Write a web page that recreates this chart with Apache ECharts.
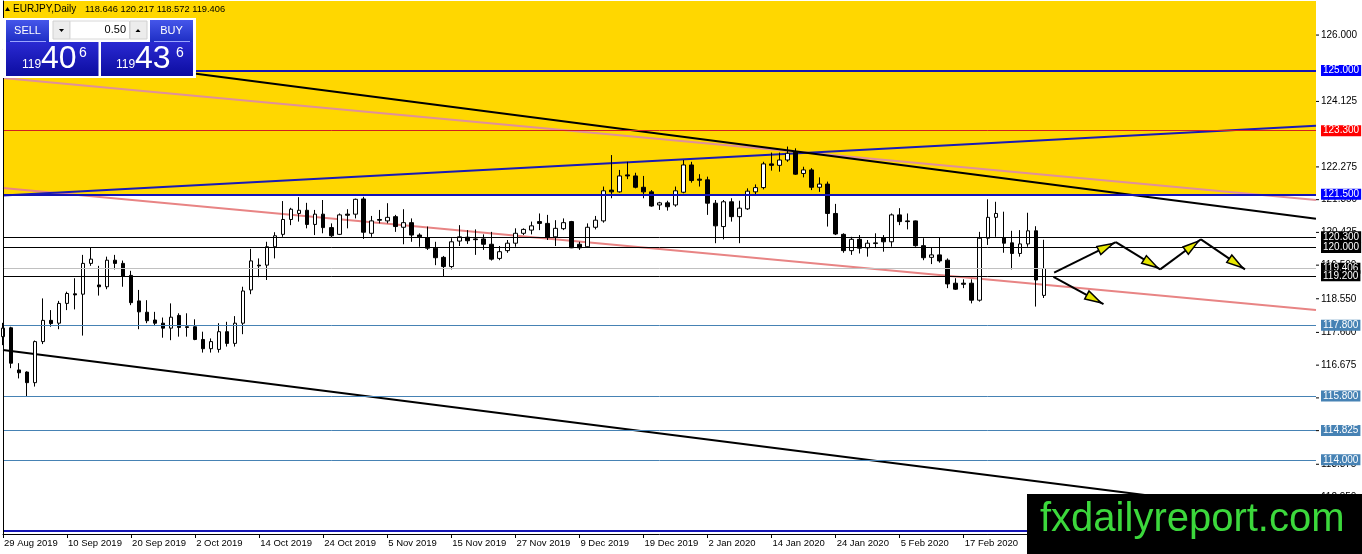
<!DOCTYPE html>
<html><head><meta charset="utf-8">
<script src="https://cdn.jsdelivr.net/npm/echarts@6/dist/echarts.min.js"></script>
<style>html,body{margin:0;padding:0;background:#fff}#c{width:1362px;height:554px}</style>
</head><body><div id="c"></div>
<script>
// ---- data ----
const tickLabels = ['29 Aug 2019','10 Sep 2019','20 Sep 2019','2 Oct 2019','14 Oct 2019','24 Oct 2019','5 Nov 2019','15 Nov 2019','27 Nov 2019','9 Dec 2019','19 Dec 2019','2 Jan 2020','14 Jan 2020','24 Jan 2020','5 Feb 2020','17 Feb 2020','27 Feb 2020'];
const opens = [117.48,117.73,116.54,116.48,116.18,117.34,117.94,117.86,118.42,118.69,118.68,119.55,118.94,118.89,119.64,119.55,119.21,118.49,118.17,117.95,117.86,117.72,118.08,117.76,117.76,117.40,117.14,117.12,117.62,117.29,117.86,118.80,119.50,119.50,120.02,120.37,120.79,120.96,121.05,120.65,120.94,120.56,120.37,120.94,120.94,121.37,120.40,120.79,120.75,120.87,120.57,120.70,120.35,120.28,119.98,119.72,119.46,120.18,120.29,120.24,120.24,120.09,119.69,119.91,120.12,120.40,120.49,120.73,120.68,120.30,120.53,120.73,120.09,120.02,120.57,120.75,121.62,121.57,122.05,122.02,121.70,121.57,121.20,121.26,121.20,121.56,122.33,121.93,121.91,121.25,120.59,121.29,120.87,121.09,121.57,121.69,122.36,122.32,122.47,122.69,122.09,122.19,121.70,121.79,120.96,120.37,119.91,120.23,119.99,120.11,120.28,120.16,120.92,120.75,120.75,120.05,119.72,119.79,119.64,118.99,118.99,118.99,118.51,120.26,120.85,120.28,120.13,119.83,120.10,120.47,118.646];
const closes = [117.72,116.73,116.46,116.18,117.34,117.94,117.85,118.42,118.70,118.66,119.55,119.67,118.89,119.64,119.55,119.19,118.44,118.18,117.93,117.86,117.72,118.03,117.74,117.74,117.40,117.14,117.34,117.62,117.29,117.86,118.77,119.62,119.48,120.02,120.33,120.79,121.08,121.05,120.65,120.94,120.56,120.33,120.92,120.91,121.36,120.43,120.75,120.77,120.85,120.59,120.70,120.35,120.30,119.98,119.71,119.46,120.16,120.30,120.19,120.22,120.09,119.67,119.88,120.12,120.40,120.51,120.61,120.68,120.28,120.54,120.70,119.99,119.99,120.57,120.77,121.60,121.57,122.02,122.02,121.70,121.57,121.17,121.26,121.15,121.60,122.33,121.89,121.90,121.25,120.61,121.29,120.87,121.11,121.59,121.69,122.36,122.32,122.47,122.66,122.07,122.19,121.70,121.79,120.96,120.38,119.91,120.23,119.98,120.12,120.13,120.16,120.92,120.73,120.73,120.05,119.71,119.79,119.62,118.97,118.82,118.96,118.51,120.26,120.85,120.96,120.12,119.83,120.10,120.47,119.08,119.406];
const lows = [117.24,116.59,116.30,115.80,116.07,117.27,117.76,117.69,118.23,118.25,117.51,119.48,118.64,118.82,119.38,118.89,118.37,117.69,117.86,117.78,117.45,117.38,117.48,117.48,117.38,117.03,117.03,117.03,117.20,117.20,117.55,118.68,119.16,119.08,119.69,120.30,120.63,120.73,120.54,120.35,120.40,120.29,120.35,120.54,120.82,120.24,120.30,120.68,120.68,120.44,120.09,120.16,120.02,119.93,119.50,119.17,119.38,120.04,120.10,119.79,119.93,119.63,119.64,119.85,120.02,120.35,120.37,120.49,120.21,120.04,120.49,119.98,119.93,120.00,120.51,120.70,121.39,121.55,121.93,121.67,121.39,121.15,121.06,121.04,121.15,121.53,121.83,121.72,120.92,120.12,120.23,120.73,120.12,121.06,121.48,121.64,122.17,122.14,122.42,122.05,121.98,121.62,121.57,120.59,120.35,119.85,119.79,119.83,119.74,119.98,119.88,120.02,120.63,120.51,120.02,119.64,119.53,119.57,118.85,118.80,118.85,118.42,118.47,120.07,120.30,119.85,119.38,119.74,120.02,118.33,118.572];
const highs = [117.87,117.76,116.73,116.50,117.37,118.56,118.23,118.49,118.75,119.13,119.79,120.00,119.48,119.74,119.79,119.63,119.34,118.80,118.51,118.18,118.02,118.42,118.14,118.14,117.97,117.62,117.43,117.86,117.90,118.06,118.89,119.96,119.69,120.16,120.43,121.31,121.12,121.42,121.26,121.06,121.34,120.68,120.96,121.08,121.38,121.43,120.89,121.06,121.25,120.92,121.08,120.82,120.40,120.59,120.16,119.76,120.26,120.63,120.49,120.51,120.37,120.44,120.04,120.21,120.54,120.54,120.73,120.96,120.92,120.77,120.82,120.75,120.16,120.68,120.89,121.72,122.61,122.19,122.42,122.11,122.02,121.62,121.29,121.32,121.72,122.47,122.42,122.07,122.00,121.34,121.34,121.39,121.32,121.67,121.78,122.42,122.68,122.68,122.85,122.80,122.28,122.24,121.98,121.86,121.23,120.40,120.30,120.35,120.21,120.40,120.35,120.96,121.11,120.96,120.76,120.26,120.00,120.28,119.69,119.13,119.10,119.10,120.44,121.36,121.29,121.01,120.47,120.49,120.98,120.60,120.217];
const yTicks = [126.000,124.125,122.275,121.350,120.425,119.500,118.550,117.600,116.675,115.750,114.825,113.875,112.950];
const blueLevels = [125.000,121.500,112.000];
const redLevels = [123.300];
const blackLevels = [120.300,120.000,119.200];
const bidLevel = [119.406];
const steelLevels = [117.800,115.800,114.825,114.000];
const goldZone = [121.500];
const trendBlackUpper = [[0,125.61],[164,120.81]];
const trendPink = [[0,124.79],[164,121.34]];
const trendBlue = [[0,121.47],[164,123.44]];
const trendSalmon = [[0,121.68],[164,118.23]];
const trendBlackLower = [[0,117.10],[164,112.39]];
const arrowSegments = [[131.29,119.29,139.00,120.15],[139.00,120.15,144.54,119.38],[144.54,119.38,149.63,120.23],[149.63,120.23,155.13,119.38],[131.21,119.17,137.46,118.40]];
const slotCount = 165;
const yMin = 111.905, yMax = 126.962;

// ---- chart ----
const FONT = 'Liberation Sans, Arial, sans-serif';
const chart = echarts.init(document.getElementById('c'), null, {renderer:'canvas'});
const cats = Array.from({length: slotCount}, (_, i) => String(i));
const candles = opens.map((o, i) => [o, closes[i], lows[i], highs[i]]);

function lvl(v, lineColor, width, bg) {
  return {yAxis: v, lineStyle: {color: lineColor, width: width, type: 'solid'},
    label: {show: true, position: 'end', distance: 5, formatter: v.toFixed(3), backgroundColor: bg,
      color: '#fff', fontSize: 10, fontFamily: FONT, padding: [1, 2, 0, 2]}};
}
const levelData = []
  .concat(steelLevels.map(v => lvl(v, '#4682b4', 1, '#4682b4')))
  .concat(bidLevel.map(v => lvl(v, '#c0c0c0', 1, '#000')))
  .concat(blackLevels.map(v => lvl(v, '#000', 1, '#000')))
  .concat(redLevels.map(v => lvl(v, '#d02020', 1, '#ff0000')))
  .concat(blueLevels.map(v => lvl(v, '#1414b4', 2, '#0000ff')));

function trend(data, color) {
  return {type: 'line', xAxisIndex: 1, yAxisIndex: 0, data: data, symbol: 'none', silent: true,
    lineStyle: {color: color, width: 2}, z: 3, animation: false};
}

const option = {
  animation: false,
  backgroundColor: '#fff',
  grid: {left: 3, right: 46, top: 1, bottom: 20, containLabel: false, outerBoundsMode: 'none'},
  xAxis: [{
    type: 'category', data: cats, boundaryGap: false,
    axisLine: {show: true, lineStyle: {color: '#000', width: 1}},
    axisTick: {show: true, interval: 7, length: 4, lineStyle: {color: '#000'}},
    axisLabel: {interval: 7, align: 'left', margin: 4, padding: [0, 0, 0, 1], color: '#000', fontSize: 9.5, fontFamily: FONT,
      formatter: (v, i) => (i % 8 === 0 && tickLabels[i / 8]) ? tickLabels[i / 8] : ''},
    splitLine: {show: false}
  }, {
    type: 'value', min: 0, max: slotCount - 1, show: false
  }],
  yAxis: [{
    type: 'value', position: 'right', min: yMin, max: yMax,
    axisLine: {show: true, lineStyle: {color: '#000', width: 1}},
    axisTick: {show: false},
    axisLabel: {customValues: yTicks, formatter: v => v.toFixed(3), margin: 5, color: '#000', fontSize: 10, fontFamily: FONT},
    splitLine: {show: false}, minorTick: {show: false}, minorSplitLine: {show: false}
  }],
  series: [
    {type: 'line', data: [], z: 1, silent: true,
      markArea: {silent: true, itemStyle: {color: '#ffd700'},
        data: goldZone.map(v => [{yAxis: v}, {yAxis: yMax}])}},
    {type: 'line', data: [], z: 2, silent: true,
      markLine: {silent: true, symbol: ['none', 'none'], animation: false, data: levelData}},
    trend(trendPink, '#e0909a'),
    trend(trendSalmon, '#e88484'),
    trend(trendBlue, '#1a1ab4'),
    trend(trendBlackUpper, '#000'),
    trend(trendBlackLower, '#000'),
    {type: 'candlestick', data: candles, barWidth: 4, z: 4,
      itemStyle: {color: '#fff', color0: '#000', borderColor: '#000', borderColor0: '#000', borderWidth: 1}},
    {type: 'custom', xAxisIndex: 1, yAxisIndex: 0, data: arrowSegments, z: 5, silent: true,
      encode: {x: [0, 2], y: [1, 3]},
      renderItem: function (params, api) {
        const a = api.coord([api.value(0), api.value(1)]);
        const b = api.coord([api.value(2), api.value(3)]);
        const dx = b[0] - a[0], dy = b[1] - a[1];
        const L = Math.hypot(dx, dy), ux = dx / L, uy = dy / L;
        const tip = [b[0] - ux * 3, b[1] - uy * 3];
        const base = [tip[0] - ux * 16, tip[1] - uy * 16];
        const nx = -uy, ny = ux, w = 4.5;
        return {type: 'group', children: [
          {type: 'line', shape: {x1: a[0], y1: a[1], x2: b[0], y2: b[1]}, style: {stroke: '#000', lineWidth: 2}},
          {type: 'polygon', shape: {points: [tip, [base[0] + nx * w, base[1] + ny * w], [base[0] - nx * w, base[1] - ny * w]]},
            style: {fill: '#e6e600', stroke: '#000', lineWidth: 1.5}}
        ]};
      }},
    // small price-scale ticks on the right axis, positioned through the y scale
    {type: 'custom', xAxisIndex: 1, yAxisIndex: 0, data: yTicks.map(v => [slotCount - 1, v]), z: 6, silent: true, clip: false,
      encode: {x: 0, y: 1},
      renderItem: function (params, api) {
        const p = api.coord([api.value(0), api.value(1)]);
        return {type: 'line', shape: {x1: p[0], y1: p[1], x2: p[0] + 3, y2: p[1]}, style: {stroke: '#000', lineWidth: 1}};
      }}
  ],
  graphic: [
    // left frame edge of the chart window
    {type: 'line', z: 50, shape: {x1: 3.5, y1: 1, x2: 3.5, y2: 534}, style: {stroke: '#000', lineWidth: 1}},
    // header
    {type: 'polygon', z: 100, shape: {points: [[5, 11], [10, 11], [7.5, 7]]}, style: {fill: '#000'}},
    {type: 'text', z: 100, x: 13, y: 9, style: {text: 'EURJPY,Daily', font: '10px ' + FONT, fill: '#000', verticalAlign: 'middle'}},
    {type: 'text', z: 100, x: 85, y: 9, style: {text: '118.646 120.217 118.572 119.406', font: '9.3px ' + FONT, fill: '#000', verticalAlign: 'middle'}},
    // one-click panel
    {type: 'rect', z: 100, shape: {x: 3, y: 18, width: 193, height: 60}, style: {fill: '#fff'}},
    {type: 'rect', z: 101, shape: {x: 6, y: 20, width: 43, height: 22},
      style: {fill: new echarts.graphic.LinearGradient(0, 0, 0, 1, [{offset: 0, color: '#4556ea'}, {offset: 1, color: '#1e2ec4'}])}},
    {type: 'rect', z: 101, shape: {x: 150, y: 20, width: 43, height: 22},
      style: {fill: new echarts.graphic.LinearGradient(0, 0, 0, 1, [{offset: 0, color: '#4556ea'}, {offset: 1, color: '#1e2ec4'}])}},
    {type: 'line', z: 102, shape: {x1: 10, y1: 41.5, x2: 46, y2: 41.5}, style: {stroke: '#9aa4ff', lineWidth: 1}},
    {type: 'line', z: 102, shape: {x1: 154, y1: 41.5, x2: 190, y2: 41.5}, style: {stroke: '#9aa4ff', lineWidth: 1}},
    {type: 'text', z: 102, x: 27.5, y: 31, style: {text: 'SELL', font: '11px ' + FONT, fill: '#fff', align: 'center', verticalAlign: 'middle'}},
    {type: 'text', z: 102, x: 171.5, y: 31, style: {text: 'BUY', font: '11px ' + FONT, fill: '#fff', align: 'center', verticalAlign: 'middle'}},
    {type: 'rect', z: 101, shape: {x: 53, y: 21, width: 17, height: 18}, style: {fill: '#ececec', stroke: '#d0d0d0', lineWidth: 1}},
    {type: 'polygon', z: 102, shape: {points: [[59, 29], [64, 29], [61.5, 32]]}, style: {fill: '#000'}},
    {type: 'rect', z: 101, shape: {x: 70, y: 21, width: 59.5, height: 18}, style: {fill: '#fff', stroke: '#d8d8d8', lineWidth: 1}},
    {type: 'text', z: 102, x: 126, y: 30, style: {text: '0.50', font: '11px ' + FONT, fill: '#000', align: 'right', verticalAlign: 'middle'}},
    {type: 'rect', z: 101, shape: {x: 130, y: 21, width: 17, height: 18}, style: {fill: '#ececec', stroke: '#d0d0d0', lineWidth: 1}},
    {type: 'polygon', z: 102, shape: {points: [[135.5, 32], [140.5, 32], [138, 29]]}, style: {fill: '#000'}},
    {type: 'rect', z: 101, shape: {x: 6, y: 42, width: 92.5, height: 34},
      style: {fill: new echarts.graphic.LinearGradient(0, 0, 0, 1, [{offset: 0, color: '#2a2ad2'}, {offset: 1, color: '#0c0ca0'}])}},
    {type: 'rect', z: 101, shape: {x: 101, y: 42, width: 92, height: 34},
      style: {fill: new echarts.graphic.LinearGradient(0, 0, 0, 1, [{offset: 0, color: '#2a2ad2'}, {offset: 1, color: '#0c0ca0'}])}},
    {type: 'text', z: 102, x: 22, y: 71, style: {text: '119', font: '12px ' + FONT, fill: '#fff', verticalAlign: 'bottom'}},
    {type: 'text', z: 102, x: 41, y: 75, style: {text: '40', font: '32px ' + FONT, fill: '#fff', verticalAlign: 'bottom'}},
    {type: 'text', z: 102, x: 79, y: 46, style: {text: '6', font: '14px ' + FONT, fill: '#fff', verticalAlign: 'top'}},
    {type: 'text', z: 102, x: 116, y: 71, style: {text: '119', font: '12px ' + FONT, fill: '#fff', verticalAlign: 'bottom'}},
    {type: 'text', z: 102, x: 135, y: 75, style: {text: '43', font: '32px ' + FONT, fill: '#fff', verticalAlign: 'bottom'}},
    {type: 'text', z: 102, x: 176, y: 46, style: {text: '6', font: '14px ' + FONT, fill: '#fff', verticalAlign: 'top'}},
    // watermark
    {type: 'rect', z: 200, shape: {x: 1027, y: 494, width: 335, height: 60}, style: {fill: '#000'}},
    {type: 'text', z: 201, x: 1040, y: 520, style: {text: 'fxdailyreport.com', font: '40px ' + FONT, fill: '#3cd83c', verticalAlign: 'middle'}}
  ]
};
chart.setOption(option);
</script>
</body></html>
